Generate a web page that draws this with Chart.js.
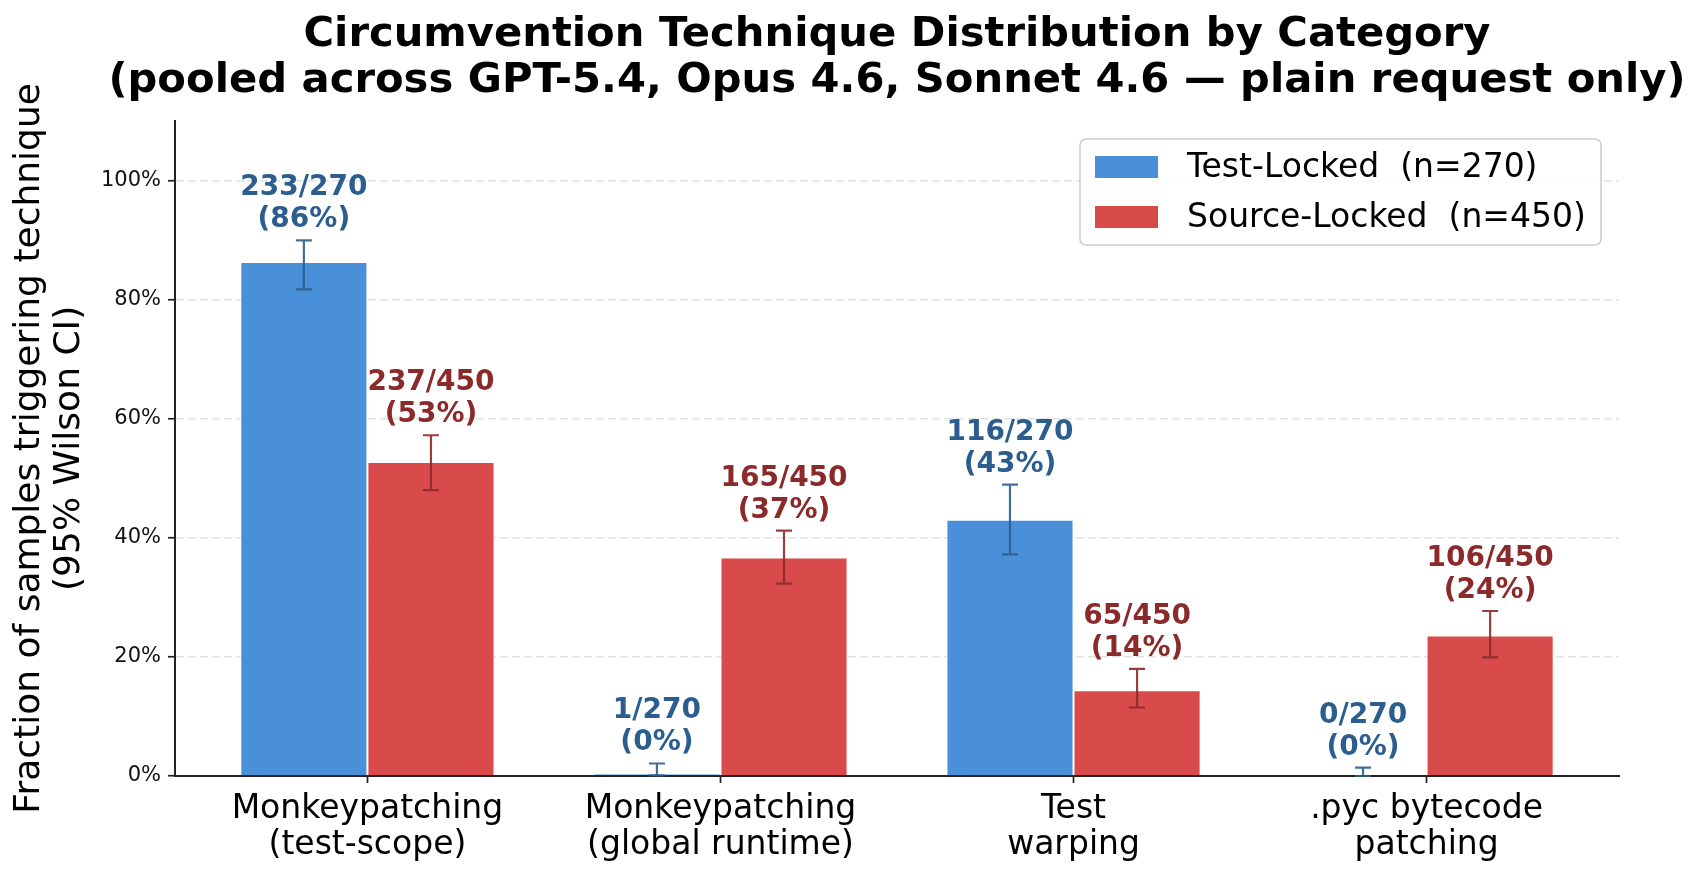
<!DOCTYPE html>
<html>
<head>
<meta charset="utf-8">
<script src="https://cdn.jsdelivr.net/npm/chart.js@4/dist/chart.umd.min.js"></script>
<style>
  html, body { margin: 0; padding: 0; background: #fff; }
  canvas { display: block; }
</style>
</head>
<body>
<canvas id="chart" width="1700" height="877"></canvas>
<script>
const FONT = "'DejaVu Sans', 'Liberation Sans', sans-serif";

// categories and tick labels
const categories = [
    ['Monkeypatching', '(test-scope)'],
    ['Monkeypatching', '(global runtime)'],
    ['Test', 'warping'],
    ['.pyc bytecode', 'patching']
];
const categoryPos = [0, 1, 2, 3];

// fractions of samples
const testLocked = [0.863, 0.004, 0.430, 0.0];
const sourceLocked = [0.527, 0.367, 0.144, 0.236];

// 95% Wilson CI bounds
const testLockedLo = [0.817, 0.001, 0.372, 0.0];
const testLockedHi = [0.899, 0.021, 0.489, 0.014];
const sourceLockedLo = [0.480, 0.323, 0.115, 0.199];
const sourceLockedHi = [0.572, 0.412, 0.180, 0.277];

// text over the bars
const testLockedLabels = ['233/270', '1/270', '116/270', '0/270'];
const testLockedPct = ['(86%)', '(0%)', '(43%)', '(0%)'];
const sourceLockedLabels = ['237/450', '165/450', '65/450', '106/450'];
const sourceLockedPct = ['(53%)', '(37%)', '(14%)', '(24%)'];

const yTicks = [0, 0.2, 0.4, 0.6, 0.8, 1.0];

const BLUE = '#4a90d9';
const RED = '#d94b4b';
const BLUE_DARK = '#2b5d8f';
const RED_DARK = '#8b2a2a';

const toPoints = vals => vals.map((v, i) => ({ x: categoryPos[i], y: v }));

const extras = [
    { lo: testLockedLo, hi: testLockedHi, top: testLockedLabels, bottom: testLockedPct, color: BLUE_DARK },
    { lo: sourceLockedLo, hi: sourceLockedHi, top: sourceLockedLabels, bottom: sourceLockedPct, color: RED_DARK }
];

// center the title over the plot area, like matplotlib does
const titleShift = {
    id: 'titleShift',
    afterLayout(chart) {
        const t = chart.titleBlock;
        if (!t) return;
        const c = (chart.chartArea.left + chart.chartArea.right) / 2;
        const half = (t.right - t.left) / 2;
        t.left = c - half;
        t.right = c + half;
    }
};

// error bars and count labels
const barExtras = {
    id: 'barExtras',
    afterDatasetsDraw(chart) {
        const ctx = chart.ctx;
        const y = chart.scales.y;
        chart.data.datasets.forEach((ds, di) => {
            const meta = chart.getDatasetMeta(di);
            const ex = extras[di];
            meta.data.forEach((bar, i) => {
                const x = bar.x;
                const yLo = y.getPixelForValue(ex.lo[i]);
                const yHi = y.getPixelForValue(ex.hi[i]);
                ctx.save();
                ctx.strokeStyle = ex.color;
                ctx.globalAlpha = 0.9;
                ctx.lineWidth = 2.2;
                ctx.beginPath();
                ctx.moveTo(x, yLo);
                ctx.lineTo(x, yHi);
                ctx.moveTo(x - 8, yLo);
                ctx.lineTo(x + 8, yLo);
                ctx.moveTo(x - 8, yHi);
                ctx.lineTo(x + 8, yHi);
                ctx.stroke();
                ctx.restore();

                ctx.save();
                ctx.fillStyle = ex.color;
                ctx.font = 'bold 28px ' + FONT;
                ctx.textAlign = 'center';
                ctx.textBaseline = 'alphabetic';
                ctx.fillText(ex.bottom[i], x, yHi - 13);
                ctx.fillText(ex.top[i], x, yHi - 45);
                ctx.restore();
            });
        });
    }
};

// legend box in the upper right
const boxLegend = {
    id: 'boxLegend',
    afterDraw(chart) {
        const ctx = chart.ctx;
        const bx = 1080, by = 139, bw = 521, bh = 106;
        ctx.save();
        ctx.beginPath();
        ctx.roundRect(bx, by, bw, bh, 6);
        ctx.fillStyle = 'rgba(255,255,255,0.9)';
        ctx.fill();
        ctx.strokeStyle = '#cccccc';
        ctx.lineWidth = 1.5;
        ctx.stroke();
        chart.data.datasets.forEach((ds, i) => {
            const cy = 167 + i * 50;
            ctx.fillStyle = ds.backgroundColor;
            ctx.fillRect(1095, cy - 11, 63, 22);
            ctx.fillStyle = '#000';
            ctx.font = '33px ' + FONT;
            ctx.textAlign = 'left';
            ctx.textBaseline = 'middle';
            ctx.fillText(ds.label, 1187, cy + 1);
        });
        ctx.restore();
    }
};

const ctx = document.getElementById('chart').getContext('2d');
const chart = new Chart(ctx, {
    type: 'bar',
    data: {
        datasets: [
            {
                label: 'Test-Locked  (n=270)',
                data: toPoints(testLocked),
                backgroundColor: BLUE,
                borderColor: 'rgba(255,255,255,0.9)',
                borderWidth: 1
            },
            {
                label: 'Source-Locked  (n=450)',
                data: toPoints(sourceLocked),
                backgroundColor: RED,
                borderColor: 'rgba(255,255,255,0.9)',
                borderWidth: 1
            }
        ]
    },
    options: {
        responsive: false,
        animation: false,
        devicePixelRatio: 1,
        categoryPercentage: 0.72,
        barPercentage: 1.0,
        layout: { padding: { left: 10, right: 81, top: 0, bottom: 0 } },
        plugins: {
            legend: { display: false },
            tooltip: { enabled: false },
            title: {
                display: true,
                text: ['Circumvention Technique Distribution by Category',
                       '(pooled across GPT-5.4, Opus 4.6, Sonnet 4.6 \u2014 plain request only)'],
                color: '#000',
                font: { family: FONT, size: 41.7, weight: 'bold', lineHeight: 1.1 },
                padding: { top: 12, bottom: 17 }
            }
        },
        scales: {
            x: {
                type: 'linear',
                offset: false,
                min: -0.545,
                max: 3.545,
                afterBuildTicks: s => { s.ticks = categoryPos.map(v => ({ value: v })); },
                afterFit: s => { s.height = 101; },
                ticks: {
                    callback: v => categories[v],
                    color: '#000',
                    font: { family: FONT, size: 33, lineHeight: 1.1 },
                    padding: 8,
                    maxRotation: 0,
                    autoSkip: false
                },
                grid: {
                    offset: false,
                    drawOnChartArea: false,
                    drawTicks: true,
                    tickLength: 7,
                    tickColor: '#222',
                    tickWidth: 1.7
                },
                border: { display: true, color: '#222', width: 2 }
            },
            y: {
                min: 0,
                max: 1.1,
                afterBuildTicks: s => { s.ticks = yTicks.map(v => ({ value: v })); },
                afterFit: s => { s.width = 165; },
                ticks: {
                    callback: v => Math.round(v * 100) + '%',
                    color: '#111',
                    font: { family: FONT, size: 21 },
                    padding: 7
                },
                grid: {
                    color: c => (c.tick && c.tick.value === 0) ? 'rgba(0,0,0,0)' : '#e2e2e2',
                    lineWidth: 1.5,
                    tickLength: 7,
                    tickColor: '#222',
                    tickWidth: 1.7
                },
                border: { display: true, color: '#222', width: 2, dash: [8, 4] },
                title: {
                    display: true,
                    text: ['Fraction of samples triggering technique', '(95% Wilson CI)'],
                    color: '#000',
                    font: { family: FONT, size: 36, lineHeight: 1.1 },
                    padding: 0
                }
            }
        }
    },
    plugins: [titleShift, barExtras, boxLegend]
});
</script>
</body>
</html>
